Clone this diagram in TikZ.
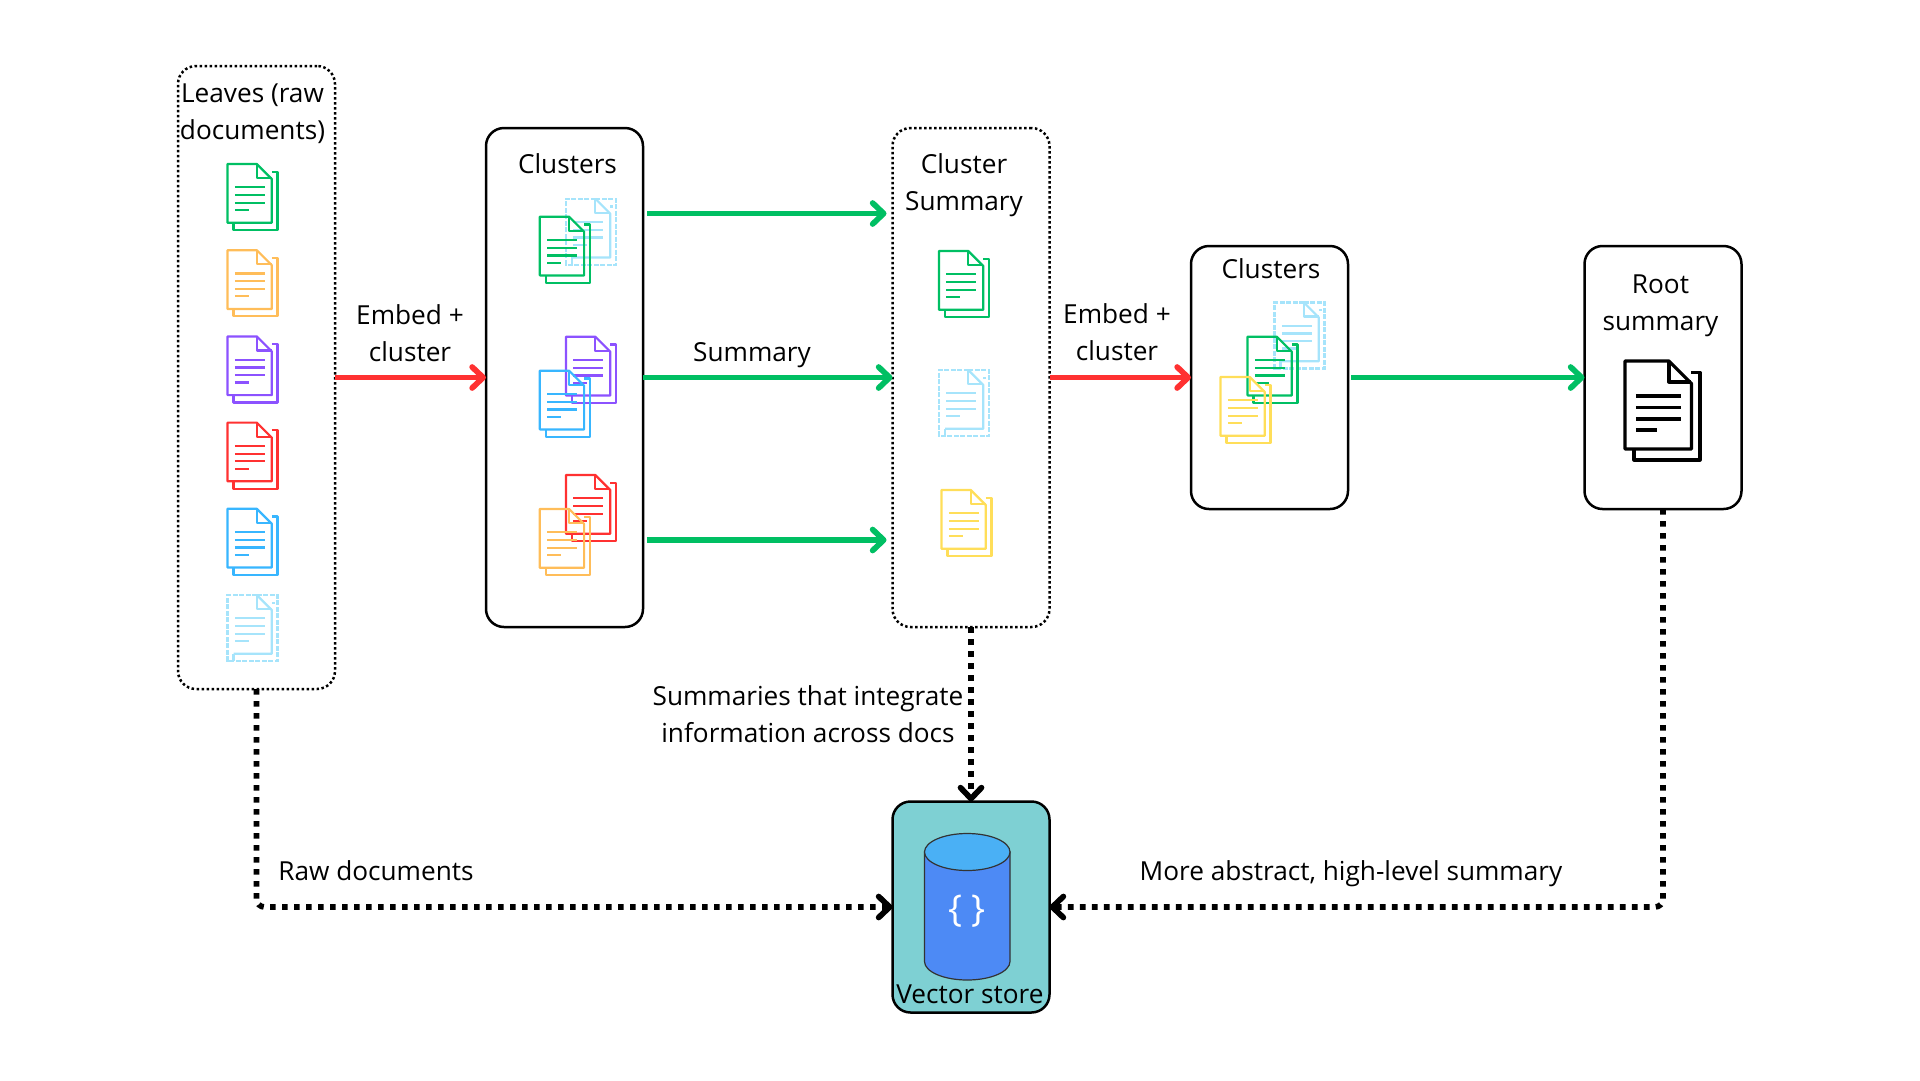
\documentclass[tikz,border=0pt]{standalone}
\usepackage{fontspec}
\setmainfont{Open Sans}
\usepackage{xcolor}
\usetikzlibrary{arrows.meta}
\definecolor{docgreen}{HTML}{00BF63}
\definecolor{docorange}{HTML}{FFBD59}
\definecolor{docpurple}{HTML}{8C52FF}
\definecolor{docred}{HTML}{FF3131}
\definecolor{docblue}{HTML}{38B6FF}
\definecolor{doclight}{HTML}{A6E4FB}
\definecolor{docyellow}{HTML}{FFDE59}
\definecolor{storeteal}{HTML}{7ED0D3}
\definecolor{cylside}{HTML}{4D8AF5}
\definecolor{cyltop}{HTML}{4AB0F5}
\newcommand{\doclines}{
	\draw[line join=round] (29.3,0) -- (29.3,14) -- (44.3,14);
	\draw (7.3,23.3) -- (37.3,23.3);
	\draw (7.3,31) -- (37.3,31);
	\draw (7.3,38.7) -- (37.3,38.7);
	\draw (7.3,46) -- (21.3,46);
}
\tikzset{
	txt/.style={font=\fontsize{26.2}{36.7}\selectfont,align=center,inner sep=0pt},
	solidbox/.style={draw=black,line width=2.5pt,rounded corners=18pt,outer sep=0pt},
	dotbox/.style={solidbox,dash pattern=on 2.5pt off 2.5pt},
	redarrow/.style={draw=docred,line width=5.7pt,-{Straight Barb[length=11pt,width=21pt,round]}},
	greenarrow/.style={draw=docgreen,line width=5.7pt,-{Straight Barb[length=11pt,width=21pt,round]}},
	storearrow/.style={draw=black,line width=5.7pt,dash pattern=on 5.7pt off 6.3pt,rounded corners=8pt,
		-{Straight Barb[length=11pt,width=21pt,round]}},
	docicon/.pic={
		\draw[line join=round] (0,0) -- (29.3,0) -- (44.3,15) -- (44.3,58.7) -- (0,58.7) -- cycle;
		\draw[line join=round] (44.3,7.7) -- (50,7.7) -- (50,66) -- (6,66) -- (6,58.7);
		\doclines
	},
	lighticon/.pic={
		\draw[line join=round] (29.3,0) -- (44.3,15) -- (44.3,58.7) -- (6,58.7);
		\draw[line join=round] (44.3,7.7) -- (47,7.7);
		\draw[dash pattern=on 5pt off 1.5pt] (29.3,0) -- (50,0) -- (50,66) -- (0,66) -- (0,0) -- cycle;
		\draw (6,58.7) -- (6,66);
		\doclines
	},
}
\begin{document}
\begin{tikzpicture}[x=1pt,y=-1pt,line width=2.2pt]
	\useasboundingbox (0,0) rectangle (1920,1080);
	% boxes
	\node[dotbox,minimum width=157pt,minimum height=623pt] (leaves) at (256.5,377.5){};
	\node[solidbox,minimum width=157pt,minimum height=499pt] (clustersa) at (564.5,377.5){};
	\node[dotbox,minimum width=157pt,minimum height=499pt] (summary) at (971,377.5){};
	\node[solidbox,minimum width=157pt,minimum height=263pt] (clustersb) at (1269.5,377.5){};
	\node[solidbox,minimum width=157pt,minimum height=263pt] (root) at (1663,377.5){};
	\node[solidbox,fill=storeteal,minimum width=157pt,minimum height=211pt] (store) at (971,907){};
	% labels
	\node[txt] (leavestxt) at (252.5,113.5){Leaves (raw\\documents)};
	\node[txt] (clustersatxt) at (567.5,164){Clusters};
	\node[txt] (summarytxt) at (964,185.2){Cluster\\Summary};
	\node[txt] (clustersbtxt) at (1271,269){Clusters};
	\node[txt] (roottxt) at (1660.5,306){Root\\summary};
	\node[txt] (embedatxt) at (410,333){Embed +\\cluster};
	\node[txt] (embedbtxt) at (1117,332){Embed +\\cluster};
	\node[txt] (sumtxt) at (752,355.5){Summary};
	\node[txt] (integtxt) at (808,714.5){Summaries that integrate\\information across docs};
	\node[txt] (rawtxt) at (376,871){Raw documents};
	\node[txt] (abstxt) at (1351,873.5){More abstract, high-level summary};
	% leaves
	\pic[docgreen] at (227.5,164) {docicon};
	\pic[docorange] at (227.5,250.2) {docicon};
	\pic[docpurple] at (227.5,336.4) {docicon};
	\pic[docred] at (227.5,422.6) {docicon};
	\pic[docblue] at (227.5,508.8) {docicon};
	\pic[doclight] at (227.5,595) {lighticon};
	% first clusters
	\pic[doclight] at (566,198.7) {lighticon};
	\pic[docgreen] at (539.8,216.7) {docicon};
	\pic[docpurple] at (566,336.7) {docicon};
	\pic[docblue] at (539.8,370.7) {docicon};
	\pic[docred] at (566,475) {docicon};
	\pic[docorange] at (539.8,509) {docicon};
	% cluster summary
	\pic[docgreen] at (939,251) {docicon};
	\pic[doclight] at (939,370) {lighticon};
	\pic[docyellow] at (941.5,490) {docicon};
	% second clusters
	\pic[doclight] at (1274.5,302.5) {lighticon};
	\pic[docgreen] at (1247.5,336.7) {docicon};
	\pic[docyellow] at (1220.5,377) {docicon};
	% root
	\pic[black,scale=1.5,line width=3.2pt] at (1625,361) {docicon};
	% vector store
	\draw[draw=black!80,fill=cylside,line width=1.2pt] (924.5,852) -- (924.5,961.5)
		arc[start angle=180,end angle=360,x radius=42.75pt,y radius=18.5pt] -- (1010,852) -- cycle;
	\draw[draw=black!80,fill=cyltop,line width=1.2pt] (967.25,852) ellipse[x radius=42.75pt,y radius=18.5pt];
	\node[txt,text=white,font=\fontsize{37}{40}\selectfont] (bracetxt) at (967,911){\{ \}};
	\node[txt] (storetxt) at (970,994){Vector store};
	% arrows
	\coordinate (gaa) at (647,213.5);
	\coordinate (gab) at (886.5,213.5);
	\coordinate (gca) at (647,540);
	\coordinate (gcb) at (886.5,540);
	\coordinate (gda) at (1351,377.5);
	\draw[redarrow] (leaves) -- (clustersa);
	\draw[redarrow] (summary) -- (clustersb);
	\draw[greenarrow] (gaa) -- (gab);
	\draw[greenarrow] (clustersa) -- (summary);
	\draw[greenarrow] (gca) -- (gcb);
	\draw[greenarrow] (gda) -- (root);
	\draw[storearrow] (leaves.south) |- (store.west);
	\draw[storearrow] (summary.south) -- (store.north);
	\draw[storearrow] (root.south) |- (store.east);
\end{tikzpicture}
\end{document}
